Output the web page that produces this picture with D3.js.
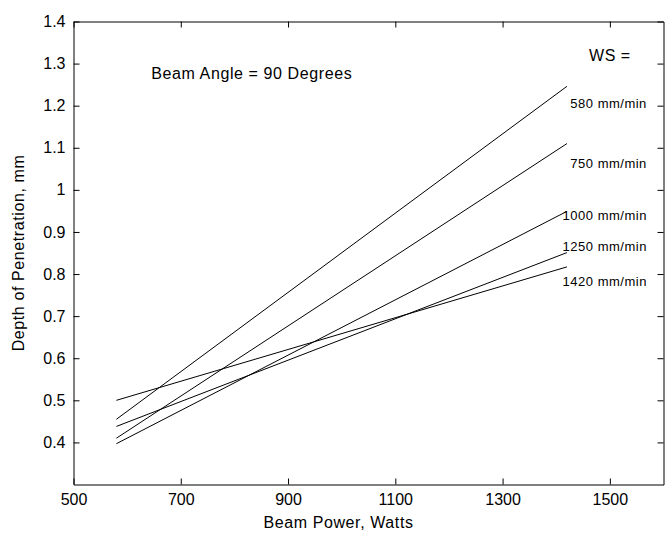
<!DOCTYPE html>
<html>
<head>
<meta charset="utf-8">
<script src="https://cdn.jsdelivr.net/npm/d3@7"></script>
<style>
  body { margin: 0; background: #fff; }
  text { font-family: "Liberation Sans", Arial, sans-serif; fill: #000; }
</style>
</head>
<body>
<div id="chart"></div>
<script>
// beam power at both ends of each line (Watts)
var powers = [580, 1420]

// welding speed of each line
var speeds = ['580 mm/min', '750 mm/min', '1000 mm/min', '1250 mm/min', '1420 mm/min']

// depth of penetration (mm) at 580 W and at 1420 W
var depthStart = [0.455, 0.41, 0.397, 0.438, 0.50]
var depthEnd = [1.246, 1.11, 0.949, 0.851, 0.817]

// where the speed labels sit (data units)
var labelDepth = [1.205, 1.062, 0.939, 0.865, 0.782]

var xTicks = [500, 700, 900, 1100, 1300, 1500]
var yTicks = [0.4, 0.5, 0.6, 0.7, 0.8, 0.9, 1, 1.1, 1.2, 1.3, 1.4]

var margin = {top: 21, right: 7, bottom: 51, left: 73},
    width = 670 - margin.left - margin.right,
    height = 535 - margin.top - margin.bottom;

var svg = d3.select("#chart")
  .append("svg")
    .attr("width", 670)
    .attr("height", 535)
  .append("g")
    .attr("transform", "translate(" + (margin.left + 0.5) + "," + (margin.top + 0.5) + ")");

var x = d3.scaleLinear()
    .domain([500, 1600])
    .range([0, width])

var y = d3.scaleLinear()
    .domain([0.3, 1.4])
    .range([height, 0])

// bottom + left axes with labels, ticks pointing inward
var xAxis = svg.append("g")
    .attr("transform", "translate(0," + height + ")")
    .call(d3.axisBottom(x).tickValues(xTicks).tickFormat(d3.format("d")).tickSizeInner(-6).tickSizeOuter(0).tickPadding(9))
xAxis.selectAll("text").style("font-size", "16px")

var yAxis = svg.append("g")
    .call(d3.axisLeft(y).tickValues(yTicks).tickFormat(d3.format("")).tickSizeInner(-6).tickSizeOuter(0).tickPadding(8))
yAxis.selectAll("text").style("font-size", "16px")

// top + right to close the box
svg.append("g")
    .call(d3.axisTop(x).tickValues(xTicks).tickSizeInner(-6).tickSizeOuter(0).tickFormat(""))
svg.append("g")
    .attr("transform", "translate(" + width + ",0)")
    .call(d3.axisRight(y).tickValues(yTicks).tickSizeInner(-6).tickSizeOuter(0).tickFormat(""))

svg.selectAll(".domain, .tick line").attr("stroke", "#000")

// the lines
var lines = speeds.map(function(s, i) {
    return [[powers[0], depthStart[i]], [powers[1], depthEnd[i]]]
})

svg.selectAll("speedLines")
    .data(lines)
    .enter()
    .append("path")
    .attr("d", d3.line().x(function(d){ return x(d[0]) }).y(function(d){ return y(d[1]) }))
    .attr("fill", "none")
    .attr("stroke", "#000")
    .attr("stroke-width", 1)

// labels
svg.selectAll("speedLabels")
    .data(speeds)
    .enter()
    .append("text")
    .attr("x", x(1569))
    .attr("y", function(d, i){ return y(labelDepth[i]) })
    .attr("dy", "0.35em")
    .attr("text-anchor", "end")
    .style("font-size", "13px")
    .style("letter-spacing", "0.5px")
    .text(function(d){ return d })

svg.append("text")
    .attr("x", x(1500))
    .attr("y", y(1.319))
    .attr("dy", "0.35em")
    .attr("text-anchor", "middle")
    .style("font-size", "16px")
    .style("letter-spacing", "0.5px")
    .text("WS =")

svg.append("text")
    .attr("x", x(645))
    .attr("y", y(1.276))
    .attr("dy", "0.35em")
    .style("font-size", "16px")
    .style("letter-spacing", "0.6px")
    .text("Beam Angle = 90 Degrees")

// axis titles
svg.append("text")
    .attr("text-anchor", "middle")
    .attr("x", 338 - margin.left)
    .attr("y", height + 43)
    .style("font-size", "16px")
    .style("letter-spacing", "0.6px")
    .text("Beam Power, Watts")

svg.append("text")
    .attr("text-anchor", "middle")
    .attr("transform", "translate(" + (-50) + "," + (height / 2) + ") rotate(-90)")
    .style("font-size", "16px")
    .style("letter-spacing", "0.6px")
    .text("Depth of Penetration, mm")
</script>
</body>
</html>
